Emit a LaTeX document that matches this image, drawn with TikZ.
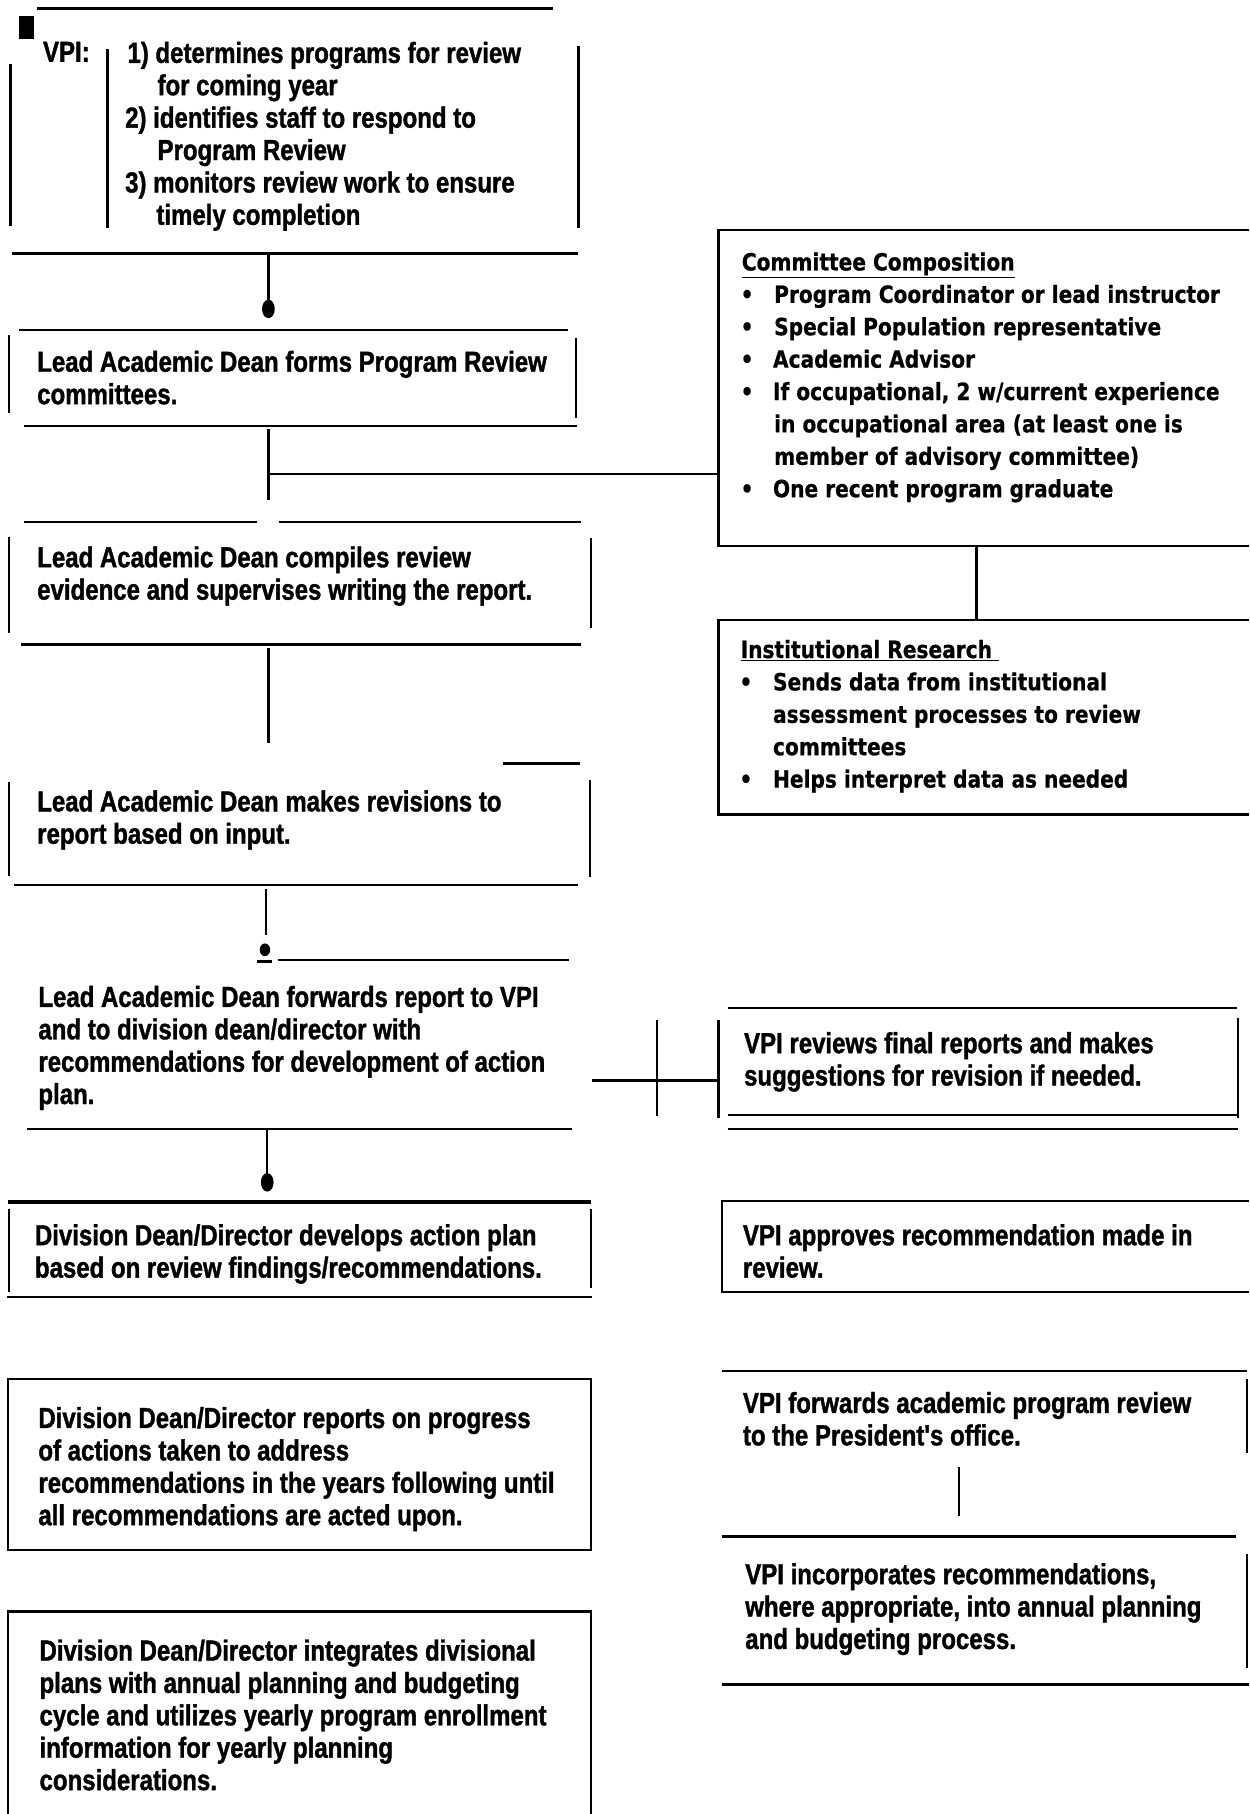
\documentclass[tikz,border=0pt]{standalone}
\usepackage{fontspec}
\newfontfamily\nfont{Liberation Sans}[FakeStretch=0.83,FakeBold=1.3]
\newfontfamily\tfont{DejaVu Sans}[FakeStretch=0.85,FakeBold=0.6]
\begin{document}
\begin{tikzpicture}[x=1pt,y=-1pt,
  ln/.style={line width=2pt},
  lnb/.style={line width=2.7pt},
  lt/.style={anchor=north west, inner sep=0pt, align=left, font=\nfont\bfseries\fontsize{25}{28}\selectfont},
  rt/.style={anchor=north west, inner sep=0pt, align=left, font=\tfont\bfseries\fontsize{20.5}{28}\selectfont}]
\useasboundingbox (0,0) rectangle (1080,1568);

% ---------- Box 1: VPI ----------
\draw[lnb] (32,7) -- (478,7);
\fill (16,14) rectangle (29,34);
\draw[ln] (9,55) -- (9,195);
\draw[ln] (93,42) -- (93,197);
\draw[ln] (500,40) -- (500,197);
\draw[ln] (10,219) -- (500,219);
\node[lt] (vpilab) at (37,36) {VPI:};
\node[lt] (vpitext) at (110,36) {1) determines programs for review\\
\hspace{26pt}for coming year\\
\hspace{-2pt}2) identifies staff to respond to\\
\hspace{26pt}Program Review\\
\hspace{-2pt}3) monitors review work to ensure\\
\hspace{25pt}timely completion};

% connector 1
\coordinate (c1a) at (232,219);
\coordinate (c1b) at (232,267);
\draw[ln] (c1a) -- (c1b);
\fill (c1b) ellipse [x radius=5.5pt, y radius=8pt];

% ---------- Box 2 ----------
\draw[ln] (16,285) -- (491,285);
\draw[ln] (8,290) -- (8,357);
\draw[ln] (498,292) -- (498,361);
\draw[ln] (21,368) -- (499,368);
\node[lt] (b2) at (32,303) {Lead Academic Dean forms Program Review\\committees.};

% connector 2
\coordinate (c2a) at (232,371);
\coordinate (c2b) at (232,432);
\coordinate (c2m) at (232,410);
\coordinate (c2r) at (621,410);
\draw[ln] (c2a) -- (c2b);
\draw[ln] (c2m) -- (c2r);

% ---------- Box 3 ----------
\draw[ln] (21,451) -- (222,451);
\draw[ln] (241,451) -- (502,451);
\draw[ln] (8,464) -- (8,547);
\draw[ln] (511,465) -- (511,543);
\draw[ln] (18,557) -- (502,557);
\node[lt] (b3) at (32,472) {Lead Academic Dean compiles review\\evidence and supervises writing the report.};

% connector 3
\coordinate (c3a) at (232,560);
\coordinate (c3b) at (232,642);
\draw[ln] (c3a) -- (c3b);

% ---------- Box 4 ----------
\draw[ln] (435,660) -- (501,660);
\draw[ln] (8,676) -- (8,757);
\draw[ln] (510,674) -- (510,758);
\draw[ln] (12,765) -- (500,765);
\node[lt] (b4) at (32,683) {Lead Academic Dean makes revisions to\\report based on input.};

% connector 4
\coordinate (c4a) at (230,768);
\coordinate (c4b) at (230,808);
\coordinate (c4d) at (229,821);
\draw[ln] (c4a) -- (c4b);
\fill (c4d) ellipse [x radius=4.5pt, y radius=5.5pt];
\draw[ln] (222,831) -- (235,831);
\draw[ln] (240,830) -- (492,830);

% ---------- Box 5 ----------
\node[lt] (b5) at (33,852) {Lead Academic Dean forwards report to VPI\\and to division dean/director with\\recommendations for development of action\\plan.};
\draw[ln] (23,976) -- (494,976);

% connector to VPI reviews
\coordinate (c5l) at (512,934);
\coordinate (c5r) at (621,934);
\draw[lnb] (c5l) -- (c5r);
\draw[ln] (568,882) -- (568,965);

% connector 5
\coordinate (c6a) at (231,976);
\coordinate (c6b) at (231,1022);
\draw[ln] (c6a) -- (c6b);
\fill (c6b) ellipse [x radius=5.5pt, y radius=8pt];

% ---------- Box 6 ----------
\draw[lnb] (7,1039) -- (511,1039);
\draw[ln] (8,1045) -- (8,1117);
\draw[ln] (511,1045) -- (511,1113);
\draw[ln] (6,1121) -- (512,1121);
\node[lt] (b6) at (30,1058) {Division Dean/Director develops action plan\\based on review findings/recommendations.};

% ---------- Box 7 ----------
\draw[ln] (7,1192) rectangle (511,1340);
\node[lt] (b7) at (33,1216) {Division Dean/Director reports on progress\\of actions taken to address\\recommendations in the years following until\\all recommendations are acted upon.};

% ---------- Box 8 ----------
\draw[ln] (7,1568) -- (7,1393) -- (511,1393) -- (511,1568);
\node[lt] (b8) at (34,1417) {Division Dean/Director integrates divisional\\plans with annual planning and budgeting\\cycle and utilizes yearly program enrollment\\information for yearly planning\\considerations.};

% ---------- Committee Composition ----------
\draw[ln] (1080,199) -- (621,199) -- (621,472) -- (1080,472);
\node[rt] (cc) at (641,218) {\underline{Committee Composition}\\
\hspace{-1pt}\makebox[29pt][l]{•}Program Coordinator or lead instructor\\
\hspace{-1pt}\makebox[29pt][l]{•}Special Population representative\\
\hspace{-1pt}\makebox[28pt][l]{•}Academic Advisor\\
\hspace{-1pt}\makebox[28pt][l]{•}If occupational, 2 w/current experience\\
\hspace{28pt}in occupational area (at least one is\\
\hspace{28pt}member of advisory committee)\\
\hspace{-1pt}\makebox[28pt][l]{•}One recent program graduate};

% connector
\coordinate (c7a) at (844,472);
\coordinate (c7b) at (844,536);
\draw[ln] (c7a) -- (c7b);

% ---------- Institutional Research ----------
\draw[ln] (1080,536) -- (621,536) -- (621,704) -- (1080,704);
\node[rt] (ir) at (640,553) {\underline{Institutional Research\ }\\
\hspace{-1pt}\makebox[29pt][l]{•}Sends data from institutional\\
\hspace{28pt}assessment processes to review\\
\hspace{28pt}committees\\
\hspace{-1pt}\makebox[29pt][l]{•}Helps interpret data as needed};

% ---------- VPI reviews ----------
\draw[ln] (629,871) -- (1069,871);
\draw[ln] (621,882) -- (621,966);
\draw[ln] (1070,880) -- (1070,966);
\draw[ln] (629,964) -- (1070,964);
\draw[ln] (629,976) -- (1070,976);
\node[lt] (r1) at (643,892) {VPI reviews final reports and makes\\suggestions for revision if needed.};

% ---------- VPI approves ----------
\draw[ln] (1080,1038) -- (624,1038) -- (624,1117) -- (1080,1117);
\node[lt] (r2) at (642,1058) {VPI approves recommendation made in\\review.};

% ---------- VPI forwards ----------
\draw[ln] (624,1185) -- (1078,1185);
\draw[ln] (1078,1192) -- (1078,1256);
\node[lt] (r3) at (642,1203) {VPI forwards academic program review\\to the President's office.};

\coordinate (c8a) at (829,1268);
\coordinate (c8b) at (829,1310);
\draw[ln] (c8a) -- (c8b);

% ---------- VPI incorporates ----------
\draw[ln] (624,1328) -- (1068,1328);
\draw[ln] (1078,1343) -- (1078,1442);
\draw[ln] (624,1456) -- (1080,1456);
\node[lt] (r4) at (644,1351) {VPI incorporates recommendations,\\where appropriate, into annual planning\\and budgeting process.};
\end{tikzpicture}
\end{document}
